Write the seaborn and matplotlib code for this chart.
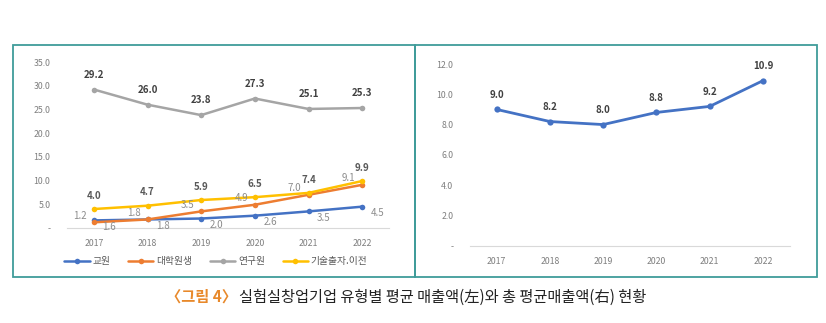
import matplotlib
matplotlib.use("Agg")
import matplotlib.pyplot as plt
import matplotlib.patches as mpatches
from matplotlib.lines import Line2D
import seaborn as sns
import pandas as pd

years = ["2017", "2018", "2019", "2020", "2021", "2022"]
series_names = ["교원", "대학원생", "연구원", "기술출자.이전"]
faculty = [1.6, 1.8, 2.0, 2.6, 3.5, 4.5]
grad_students = [1.2, 1.8, 3.5, 4.9, 7.0, 9.1]
researchers = [29.2, 26.0, 23.8, 27.3, 25.1, 25.3]
tech_transfer = [4.0, 4.7, 5.9, 6.5, 7.4, 9.9]
total_avg = [9.0, 8.2, 8.0, 8.8, 9.2, 10.9]
left_yticks = [0, 5, 10, 15, 20, 25, 30, 35]
right_yticks = [0, 2, 4, 6, 8, 10, 12]

colors = ["#4472C4", "#ED7D31", "#A5A5A5", "#FFC000"]

sns.set_style("white")
plt.rcParams["font.family"] = ["Noto Sans CJK KR", "DejaVu Sans"]

W, H = 826, 323
fig = plt.figure(figsize=(W / 100, H / 100), dpi=100)
fig.patch.set_facecolor("white")

# panel borders
teal = "#3F9C9A"
for x0, x1 in [(13, 415), (415, 817)]:
    fig.patches.append(mpatches.Rectangle((x0 / W, (H - 277) / H), (x1 - x0) / W, (277 - 45) / H,
                                          transform=fig.transFigure, fill=False, ec=teal, lw=1.3))

def fmt(v):
    return "-" if v == 0 else f"{v:.1f}"

# ---------- left chart ----------
axL = fig.add_axes([67 / W, 95 / H, 322 / W, 166 / H])
rows = []
for name, vals in zip(series_names, [faculty, grad_students, researchers, tech_transfer]):
    for i, v in enumerate(vals):
        rows.append({"year": i, "series": name, "value": v})
dfL = pd.DataFrame(rows)
sns.lineplot(data=dfL, x="year", y="value", hue="series", hue_order=series_names,
             palette=colors, marker="o", markersize=4, markeredgewidth=0, linewidth=1.8,
             ax=axL, legend=False)
axL.set_xlim(-0.5, 5.5)
axL.set_ylim(0, 35)
axL.set_yticks(left_yticks)
axL.set_yticklabels([fmt(v) for v in left_yticks])
axL.set_xticks(range(len(years)))
axL.set_xticklabels(years)

# (values, colour, weight, offset, ha, va)
label_specs = [
    (faculty, "#8C8C8C", "normal", (6, -1), "left", "top"),
    (grad_students, "#8C8C8C", "normal", (-5, 1), "right", "bottom"),
    (researchers, "#404040", "bold", (0, 7), "center", "bottom"),
    (tech_transfer, "#595959", "bold", (0, 6), "center", "bottom"),
]
for vals, c, wgt, off, ha, va in label_specs:
    for i, v in enumerate(vals):
        axL.annotate(f"{v:.1f}", (i, v), xytext=off, textcoords="offset points",
                     ha=ha, va=va, fontsize=7, color=c, fontweight=wgt)

handles = [Line2D([0], [0], color=c, lw=1.8, marker="o", markersize=4, markeredgewidth=0) for c in colors]
fig.legend(handles, series_names, loc="center", bbox_to_anchor=(216 / W, (H - 261) / H),
           ncol=4, frameon=False, fontsize=7, handlelength=2.6, columnspacing=1.8,
           handletextpad=0.3, labelcolor="#595959")

# ---------- right chart ----------
axR = fig.add_axes([470 / W, 77.3 / H, 319.6 / W, 181.7 / H])
dfR = pd.DataFrame({"year": range(len(years)), "value": total_avg})
sns.lineplot(data=dfR, x="year", y="value", color="#4472C4", marker="o", markersize=4.5,
             markeredgewidth=0, linewidth=2, ax=axR)
axR.set_xlim(-0.5, 5.5)
axR.set_ylim(0, 12)
axR.set_yticks(right_yticks)
axR.set_yticklabels([fmt(v) for v in right_yticks])
axR.set_xticks(range(len(years)))
axR.set_xticklabels(years)
for i, v in enumerate(total_avg):
    axR.annotate(f"{v:.1f}", (i, v), xytext=(0, 7), textcoords="offset points",
                 ha="center", va="bottom", fontsize=7, color="#404040", fontweight="bold")

for ax in (axL, axR):
    ax.set_xlabel("")
    ax.set_ylabel("")
    for s in ["top", "right", "left"]:
        ax.spines[s].set_visible(False)
    ax.spines["bottom"].set_color("#D9D9D9")
    ax.spines["bottom"].set_linewidth(0.8)
    ax.tick_params(axis="both", length=0, labelsize=6.3, labelcolor="#7F7F7F", pad=8)
    ax.tick_params(axis="y", pad=12)
    ax.patch.set_alpha(0)

# ---------- caption ----------
renderer = fig.canvas.get_renderer()
part1 = "〈그림 4〉"
part2 = "실험실창업기업 유형별 평균 매출액(左)와 총 평균매출액(右) 현황"
cy = (H - 297) / H
t1 = fig.text(0, cy, part1, fontsize=11, color="#E8892B", fontweight="bold", va="center", ha="left")
t2 = fig.text(0, cy, part2, fontsize=11, color="#222222", va="center", ha="left")
w1 = t1.get_window_extent(renderer).width
w2 = t2.get_window_extent(renderer).width
gap = 2
start = (406 * 2 - (w1 + gap + w2)) / 2
t1.set_x(start / W)
t2.set_x((start + w1 + gap) / W)

fig.savefig("out.png", dpi=100, facecolor="white")
